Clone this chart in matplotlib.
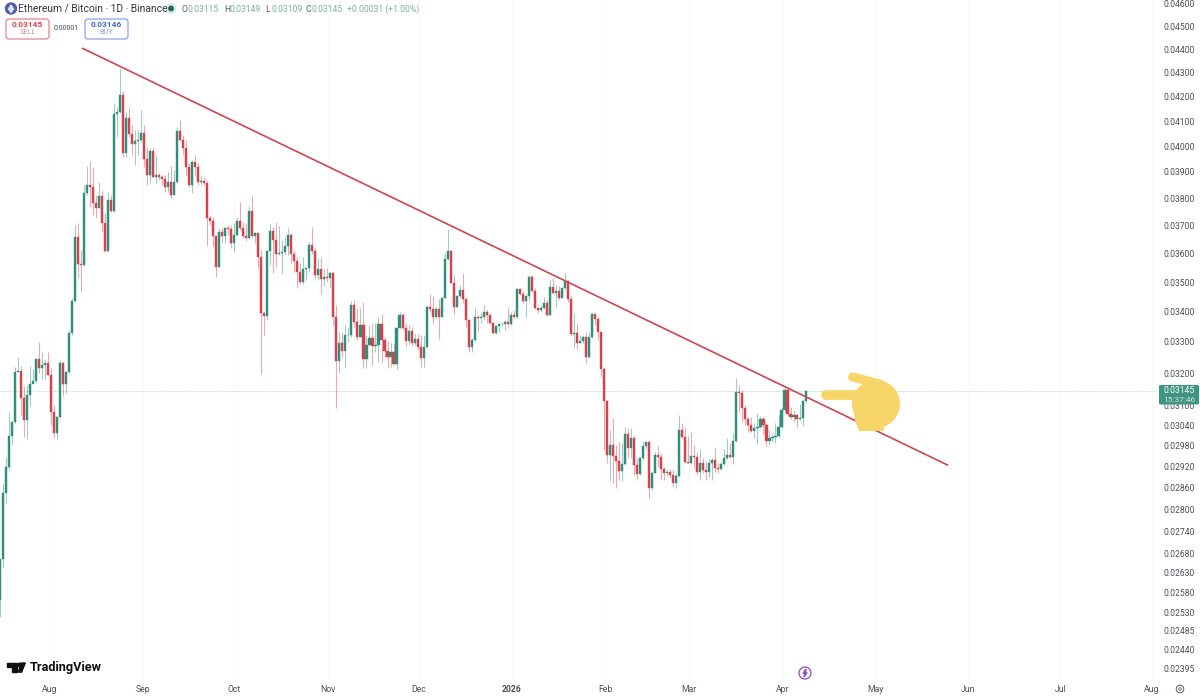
import numpy as np
import matplotlib
matplotlib.use('Agg')
import matplotlib.pyplot as plt
from matplotlib.patches import Circle, FancyBboxPatch, Polygon

plt.rcParams['font.family'] = ['Roboto', 'DejaVu Sans']

# ETH/BTC daily candles, in units of 0.00001
first_open = 2561
closes = [
    2667, 2845, 2918, 3008, 3050, 3204, 3207, 3122, 3056, 3131,
    3166, 3175, 3244, 3216, 3225, 3232, 3194, 3080, 3017, 3065,
    3232, 3166, 3204, 3328, 3435, 3658, 3562, 3558, 3820, 3850,
    3842, 3783, 3764, 3809, 3709, 3608, 3794, 3753, 4129, 4137,
    4206, 3973, 4112, 4048, 4008, 4020, 4024, 4052, 3950, 3888,
    3981, 3880, 3888, 3880, 3873, 3842, 3861, 3812, 3861, 4060,
    4024, 3993, 3919, 3850, 3938, 3919, 3861, 3865, 3858, 3727,
    3716, 3661, 3551, 3676, 3661, 3690, 3687, 3636, 3665, 3716,
    3690, 3661, 3654, 3753, 3661, 3672, 3587, 3395, 3385, 3608,
    3679, 3647, 3598, 3601, 3605, 3626, 3665, 3598, 3572, 3534,
    3500, 3544, 3548, 3629, 3608, 3524, 3544, 3510, 3517, 3514,
    3531, 3381, 3238, 3296, 3270, 3322, 3322, 3422, 3365, 3316,
    3355, 3244, 3289, 3312, 3286, 3289, 3358, 3306, 3270, 3251,
    3267, 3229, 3345, 3388, 3345, 3303, 3335, 3296, 3309, 3283,
    3247, 3283, 3415, 3408, 3381, 3408, 3381, 3445, 3580, 3608,
    3496, 3415, 3451, 3472, 3441, 3371, 3283, 3306, 3381, 3378,
    3381, 3398, 3388, 3361, 3328, 3351, 3358, 3360, 3365, 3358,
    3388, 3381, 3476, 3458, 3435, 3451, 3517, 3469, 3412, 3405,
    3412, 3428, 3388, 3482, 3462, 3469, 3445, 3479, 3503, 3441,
    3325, 3328, 3296, 3302, 3316, 3251, 3316, 3391, 3375, 3332,
    3213, 3113, 2952, 2981, 2950, 2935, 2906, 2926, 3014, 2973,
    3002, 2923, 2898, 2944, 2978, 2990, 2859, 2901, 2952, 2947,
    2912, 2901, 2904, 2895, 2873, 2892, 3026, 3005, 2932, 2929,
    2950, 2947, 2904, 2929, 2909, 2904, 2929, 2938, 2915, 2912,
    2926, 2944, 2952, 2947, 2993, 3141, 3138, 3092, 3059, 3041,
    3023, 3032, 3035, 3059, 3041, 2993, 3002, 3005, 3008, 3035,
    3086, 3147, 3074, 3065, 3071, 3059, 3062, 3115, 3145,
]
highs = [
    2667, 2873, 2947, 3080, 3050, 3219, 3251, 3223, 3160, 3163,
    3223, 3213, 3247, 3299, 3267, 3241, 3267, 3216, 3101, 3068,
    3238, 3235, 3207, 3338, 3445, 3702, 3709, 3612, 3850, 3923,
    3942, 3915, 3812, 3861, 3831, 3746, 3820, 3812, 4174, 4157,
    4320, 4223, 4137, 4157, 4084, 4064, 4064, 4145, 4084, 3997,
    3993, 3997, 3965, 3896, 3888, 3888, 3900, 3923, 3907, 4076,
    4104, 4044, 4024, 3934, 3946, 3965, 3934, 3888, 3880, 3865,
    3738, 3731, 3661, 3690, 3690, 3694, 3702, 3702, 3709, 3731,
    3787, 3712, 3709, 3772, 3809, 3676, 3672, 3612, 3398, 3612,
    3705, 3694, 3712, 3698, 3647, 3658, 3690, 3672, 3612, 3587,
    3565, 3587, 3551, 3640, 3694, 3619, 3583, 3587, 3544, 3548,
    3534, 3534, 3422, 3332, 3332, 3355, 3348, 3435, 3438, 3412,
    3412, 3431, 3322, 3355, 3361, 3361, 3381, 3391, 3316, 3302,
    3296, 3296, 3345, 3398, 3395, 3361, 3355, 3348, 3325, 3325,
    3322, 3322, 3422, 3458, 3451, 3415, 3441, 3448, 3601, 3687,
    3612, 3524, 3455, 3489, 3531, 3445, 3375, 3312, 3412, 3388,
    3395, 3422, 3408, 3391, 3365, 3355, 3361, 3361, 3371, 3412,
    3398, 3405, 3479, 3479, 3469, 3455, 3524, 3524, 3479, 3415,
    3422, 3448, 3438, 3507, 3514, 3489, 3486, 3482, 3531, 3507,
    3455, 3395, 3361, 3322, 3322, 3328, 3332, 3395, 3391, 3381,
    3335, 3219, 3116, 3026, 3062, 2981, 2990, 2987, 3035, 3032,
    3032, 3011, 2944, 2947, 2993, 2993, 2993, 2906, 2961, 2978,
    2958, 2918, 2912, 2912, 2909, 2901, 3071, 3047, 3035, 3008,
    3020, 2981, 2961, 2970, 2944, 2935, 2941, 2944, 2973, 2929,
    2932, 2970, 3002, 2987, 3017, 3185, 3163, 3147, 3101, 3065,
    3065, 3047, 3077, 3068, 3065, 3047, 3026, 3017, 3047, 3071,
    3095, 3157, 3157, 3095, 3086, 3074, 3104, 3118, 3149,
]
lows = [
    2519, 2644, 2817, 2909, 2981, 3047, 3204, 3071, 3005, 2999,
    3098, 3169, 3169, 3200, 3178, 3178, 3191, 3041, 3002, 2999,
    3062, 3128, 3138, 3200, 3322, 3431, 3514, 3465, 3555, 3812,
    3768, 3738, 3727, 3764, 3676, 3605, 3605, 3750, 3750, 4036,
    4133, 3958, 3958, 4036, 3965, 3926, 3965, 4016, 3919, 3850,
    3858, 3877, 3858, 3869, 3850, 3824, 3824, 3801, 3812, 3858,
    4020, 3965, 3888, 3842, 3820, 3888, 3850, 3850, 3850, 3626,
    3702, 3626, 3517, 3551, 3640, 3636, 3665, 3619, 3608, 3661,
    3683, 3654, 3643, 3651, 3658, 3636, 3548, 3197, 3322, 3371,
    3558, 3531, 3551, 3594, 3527, 3594, 3594, 3565, 3534, 3479,
    3493, 3493, 3507, 3534, 3598, 3510, 3507, 3458, 3486, 3500,
    3483, 3355, 3092, 3200, 3251, 3219, 3299, 3316, 3348, 3306,
    3316, 3216, 3216, 3289, 3225, 3267, 3235, 3235, 3251, 3216,
    3219, 3225, 3213, 3345, 3338, 3286, 3289, 3286, 3289, 3273,
    3219, 3219, 3280, 3398, 3358, 3378, 3309, 3381, 3445, 3576,
    3496, 3391, 3415, 3448, 3428, 3348, 3267, 3267, 3302, 3332,
    3361, 3371, 3361, 3358, 3325, 3325, 3332, 3351, 3338, 3348,
    3355, 3378, 3378, 3455, 3428, 3381, 3435, 3465, 3408, 3395,
    3398, 3408, 3385, 3385, 3458, 3415, 3438, 3445, 3476, 3431,
    3322, 3280, 3276, 3296, 3296, 3232, 3247, 3312, 3355, 3306,
    3188, 2967, 2929, 2878, 2873, 2859, 2881, 2878, 2923, 2944,
    2944, 2895, 2881, 2895, 2938, 2970, 2831, 2853, 2901, 2918,
    2881, 2881, 2892, 2887, 2861, 2859, 2889, 3002, 2929, 2929,
    2926, 2915, 2895, 2881, 2901, 2881, 2889, 2881, 2904, 2901,
    2909, 2923, 2938, 2944, 2926, 2990, 3080, 3050, 3041, 3020,
    3020, 3002, 2984, 3032, 3014, 2975, 2981, 2990, 2987, 3005,
    3032, 3080, 3071, 3059, 3050, 3035, 3056, 3038, 3109,
]

# trend line end points (candle number, price)
trend_x = [27.4, 315.4]
trend_y = [0.04405, 0.02923]

last_price = 0.03145

price_ticks = [0.046, 0.045, 0.044, 0.043, 0.042, 0.041, 0.040, 0.039, 0.038, 0.037,
               0.036, 0.035, 0.034, 0.033, 0.032, 0.031, 0.0304, 0.0298, 0.0292, 0.0286,
               0.028, 0.0274, 0.0268, 0.0263, 0.0258, 0.0253, 0.02485, 0.0244, 0.02395]

month_labels = ['Aug', 'Sep', 'Oct', 'Nov', 'Dec', '2026', 'Feb', 'Mar', 'Apr', 'May', 'Jun', 'Jul', 'Aug']
month_pos = [16.8, 47.7, 78.0, 109.2, 139.5, 170.4, 201.3, 229.3, 260.5, 291.1, 322.0, 352.7, 383.2]

GREEN = '#2f8f7b'
RED = '#d8414c'
TEXT = '#4b4f5a'

closes = np.array(closes) / 1e5
highs = np.array(highs) / 1e5
lows = np.array(lows) / 1e5
opens = np.concatenate([[first_open / 1e5], closes[:-1]])
x = np.arange(len(closes))
up = closes >= opens
colors = np.where(up, GREEN, RED)

fig = plt.figure(figsize=(12, 7), dpi=100, facecolor='white')
ax = fig.add_axes([0, 20 / 700, 1157 / 1200, 680 / 700])
ax.set_yscale('log')
ax.set_xlim(0.15, 384.85)
ax.set_ylim(0.02367, 0.04618)

for side in ['top', 'left', 'right', 'bottom']:
    ax.spines[side].set_visible(False)

ax.set_yticks(price_ticks)
ax.set_yticklabels(['%.5f' % p for p in price_ticks])
ax.minorticks_off()
ax.yaxis.tick_right()
ax.set_xticks(month_pos)
ax.set_xticklabels(month_labels)
ax.tick_params(axis='both', length=0, labelsize=6.2, labelcolor=TEXT)
ax.tick_params(axis='x', pad=3.5)
ax.tick_params(axis='y', pad=4.5)
ax.get_xticklabels()[5].set_fontweight('bold')
ax.grid(axis='x', color='#f6f7f9', lw=0.7)
ax.set_axisbelow(True)

# wicks are thin and pale, bodies solid
ax.vlines(x, lows, highs, colors=colors, lw=0.8, alpha=0.45, zorder=2)
ax.bar(x, np.abs(closes - opens), bottom=np.minimum(opens, closes), width=0.7,
       color=colors, edgecolor=colors, linewidth=0.3, zorder=3)

ax.axhline(last_price, color='#b5dcd4', lw=0.7, ls=(0, (1, 1)), zorder=1)
ax.plot(trend_x, trend_y, color='#cf4550', lw=1.2, zorder=4, solid_capstyle='butt')

# overlay in pixels for the chart furniture
ov = fig.add_axes([0, 0, 1, 1], zorder=5)
ov.set_xlim(0, 1200)
ov.set_ylim(700, 0)
ov.axis('off')

# header
ov.add_patch(Circle((11, 8.5), 5.5, color='#4f5fa8'))
ov.add_patch(Polygon([[11, 5], [13.5, 9], [11, 12.5], [8.5, 9]], color='#dfe3f5'))
ov.text(18, 8.5, 'Ethereum / Bitcoin · 1D · Binance', fontsize=7.4, color='#33363f', va='center')
ov.add_patch(Circle((171, 8.5), 4.5, color='#d5ebe6'))
ov.add_patch(Circle((171, 8.5), 2.2, color='#1f6b5b'))
ohlc_x = [182, 224, 265, 306]
ohlc_l = ['O', 'H', 'L', 'C']
ohlc_v = ['0.03115', '0.03149', '0.03109', '0.03145']
for px, lab, val in zip(ohlc_x, ohlc_l, ohlc_v):
    ov.text(px, 9, lab, fontsize=6.2, color='#555964', va='center')
    ov.text(px + 6, 9, val, fontsize=6.2, color='#79b0a3', va='center')
ov.text(347, 9, '+0.00031 (+1.00%)', fontsize=6.2, color='#79b0a3', va='center')

ov.add_patch(FancyBboxPatch((6, 19), 43, 20, boxstyle='round,pad=0,rounding_size=3',
                            fc='white', ec='#e4787f', lw=0.8))
ov.text(27.5, 24.5, '0.03145', fontsize=6, color='#d8414c', ha='center', va='center', fontweight='bold')
ov.text(27.5, 33, 'SELL', fontsize=5.2, color='#e58a90', ha='center', va='center')
ov.text(66.5, 29, '0.00001', fontsize=5, color='#4b4f5a', ha='center', va='center')
ov.add_patch(FancyBboxPatch((85, 19), 43, 20, boxstyle='round,pad=0,rounding_size=3',
                            fc='white', ec='#7f95e2', lw=0.8))
ov.text(106.5, 24.5, '0.03146', fontsize=6, color='#3f63d0', ha='center', va='center', fontweight='bold')
ov.text(106.5, 33, 'BUY', fontsize=5.2, color='#8ba0e4', ha='center', va='center')

# last price tag
ov.add_patch(FancyBboxPatch((1159, 385), 40, 19.5, boxstyle='round,pad=0,rounding_size=1.5',
                            fc='#3f9480', ec='none'))
ov.text(1179, 390.5, '0.03145', fontsize=6.2, color='white', ha='center', va='center')
ov.text(1179, 399.5, '15:37:46', fontsize=6, color='#cfe6e0', ha='center', va='center')

# pointing hand
HAND = '#f8d568'
ov.add_patch(Circle((876, 404), 24, color=HAND, lw=0))
ov.add_patch(Polygon([[852, 399], [855, 420], [859, 431], [884, 431], [884, 385], [872, 382], [872, 399]],
                     color=HAND, lw=0))
ov.plot([826, 865], [395, 395], color=HAND, lw=7, solid_capstyle='round')
ov.plot([852.5, 880], [377, 384], color=HAND, lw=6.5, solid_capstyle='round')

# TradingView logo
ov.add_patch(Polygon([[7, 663], [17, 663], [17, 672], [12, 672], [12, 667], [7, 667]], color='#111111'))
ov.add_patch(Circle((20, 665), 1.9, color='#111111'))
ov.add_patch(Polygon([[21.5, 672], [25, 663], [20, 672]], color='#111111'))
ov.add_patch(Polygon([[25, 663], [21.5, 672], [18, 672], [22, 663]], color='#111111'))
ov.text(30, 667.5, 'TradingView', fontsize=9.2, color='#111111', va='center', fontweight='semibold')

# small badges
ov.add_patch(Circle((805, 673), 6, fc='white', ec='#8e4fc0', lw=0.9))
ov.add_patch(Polygon([[806, 669], [803, 673.5], [805, 673.5], [804, 677], [807, 672.5], [805, 672.5]], color='#8e4fc0'))
ov.add_patch(Circle((1180, 689), 3.8, fc='white', ec='#555964', lw=0.7))
ov.add_patch(Circle((1180, 689), 1.3, fc='white', ec='#555964', lw=0.6))

fig.savefig('out.png', dpi=100)
